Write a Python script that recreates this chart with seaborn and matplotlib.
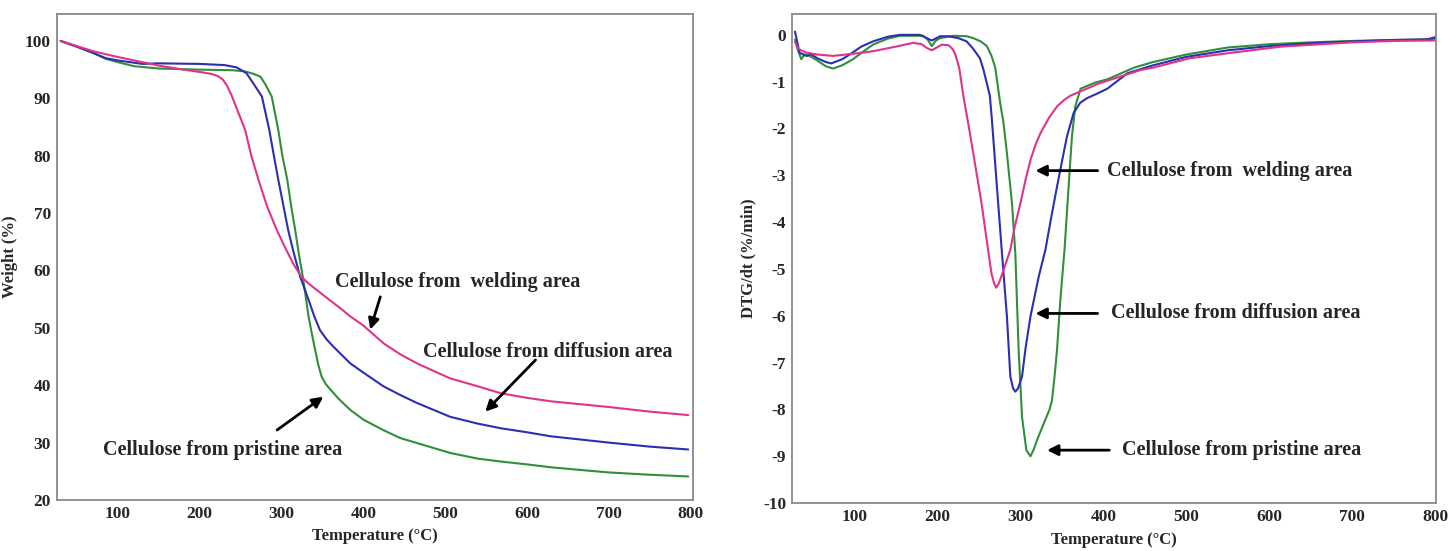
import numpy as np
import pandas as pd
import matplotlib
matplotlib.use("Agg")
import matplotlib.pyplot as plt
import seaborn as sns
from matplotlib.ticker import MultipleLocator

# ---------------- data ----------------
series_names = ["Cellulose from pristine area", "Cellulose from diffusion area", "Cellulose from welding area"]
series_colors = ["#2f8f3a", "#2b2fb0", "#e0338a"]

# TGA (left)
tga_pristine_T = [30, 50, 70, 85, 100, 120, 150, 200, 240, 255, 265, 274, 280, 288, 296, 301, 307, 312, 316.6, 321, 326,
                  333, 337, 341, 345, 349, 354, 360, 370, 384, 400, 424, 445, 466, 506, 540, 568, 600, 629, 660, 700, 750, 797]
tga_pristine_W = [100, 99.0, 97.9, 96.9, 96.3, 95.6, 95.2, 95.0, 94.9, 94.7, 94.3, 93.8, 92.5, 90.3, 84.5, 80, 75.8, 71, 67.1, 63, 58.9,
                  52, 49, 46.2, 43.5, 41.5, 40.2, 39.2, 37.6, 35.7, 34.0, 32.2, 30.8, 29.9, 28.2, 27.2, 26.7, 26.2, 25.7, 25.3, 24.8, 24.4, 24.1]

tga_diffusion_T = [30, 50, 70, 85, 100, 130, 150, 200, 230, 245, 257, 266, 276, 285, 290, 296, 302, 308, 315, 322.8, 333, 340, 347,
                   355, 363.5, 384, 400, 424.7, 445, 465.6, 506, 540, 568, 600, 629, 700, 750, 797]
tga_diffusion_W = [100, 99.0, 97.9, 97.0, 96.6, 96.0, 96.1, 96.0, 95.8, 95.4, 94.4, 92.5, 90.3, 84.5, 80.5, 75.8, 71.5, 67.1, 63, 58.9,
                   54.9, 52, 49.6, 48, 46.7, 43.8, 42.2, 39.8, 38.3, 36.9, 34.5, 33.3, 32.5, 31.8, 31.1, 30.0, 29.3, 28.8]

tga_welding_T = [30, 50, 70, 100, 130, 150, 180, 200, 213, 222, 228, 233, 239, 245, 250, 255.5, 263, 271.8, 282, 294, 305, 315, 324.8,
                 335, 343, 352, 360, 372, 384, 400, 424.7, 445, 465.6, 506, 540, 568, 600, 629, 700, 750, 797]
tga_welding_W = [100, 99.1, 98.2, 97.2, 96.3, 95.7, 95.0, 94.6, 94.3, 93.9, 93.3, 92.3, 90.5, 88.3, 86.5, 84.5, 80, 75.8, 71.3, 67.1,
                 63.8, 61, 58.8, 57.5, 56.6, 55.6, 54.7, 53.4, 52, 50.4, 47.3, 45.4, 43.8, 41.2, 39.8, 38.6, 37.8, 37.2, 36.2, 35.4, 34.8]

# DTG (right)
dtg_pristine_T = [28, 31, 35.5, 39.5, 45.6, 55, 65, 73.7, 85, 98, 110, 122, 140, 154.5, 182.7, 188, 192.8, 198, 203, 219, 235, 243,
                  252, 259.4, 265, 269.5, 275.5, 279.6, 283.6, 289.7, 293.7, 297.7, 301.8, 307, 312, 316, 320, 328, 335, 338, 341,
                  344, 348, 353, 358, 362, 366, 372.4, 390, 404.7, 437, 460, 500, 550, 600, 650, 700, 750, 800]
dtg_pristine_D = [-0.1, -0.3, -0.52, -0.42, -0.45, -0.55, -0.67, -0.72, -0.65, -0.52, -0.36, -0.21, -0.08, -0.02, -0.02, -0.1, -0.24,
                  -0.12, -0.07, -0.02, -0.03, -0.07, -0.14, -0.24, -0.45, -0.7, -1.46, -1.9, -2.53, -3.6, -4.66, -6.73, -8.16, -8.87,
                  -9.0, -8.85, -8.65, -8.3, -8.0, -7.8, -7.3, -6.73, -5.66, -4.6, -3.24, -2.17, -1.53, -1.15, -1.02, -0.95, -0.7,
                  -0.58, -0.42, -0.27, -0.2, -0.16, -0.13, -0.11, -0.09]

dtg_diffusion_T = [28, 30, 33.4, 41.5, 47.5, 55, 65, 71.8, 85, 94, 108, 122, 140, 154.5, 178.7, 186.8, 193, 203, 213, 225, 235, 243,
                   251, 255.4, 263, 265.5, 271.5, 277.6, 283.6, 287.7, 291, 293.7, 297, 301.8, 306, 311.9, 322, 330, 337, 344, 350,
                   356, 364, 372, 380.5, 393, 404.7, 429, 460, 500, 550, 600, 650, 700, 750, 790, 800]
dtg_diffusion_D = [0.07, -0.1, -0.38, -0.45, -0.42, -0.5, -0.58, -0.61, -0.52, -0.42, -0.25, -0.14, -0.04, 0, 0, -0.07, -0.12, -0.03,
                   -0.03, -0.07, -0.14, -0.3, -0.5, -0.75, -1.3, -1.82, -3.24, -4.66, -6.02, -7.3, -7.55, -7.62, -7.55, -7.3, -6.7,
                   -6.02, -5.16, -4.59, -3.9, -3.24, -2.7, -2.17, -1.67, -1.45, -1.35, -1.25, -1.15, -0.82, -0.65, -0.47, -0.33,
                   -0.24, -0.18, -0.14, -0.11, -0.1, -0.05]

dtg_welding_T = [28, 32, 41.5, 55, 73.7, 100, 122, 150, 170.6, 180.7, 187, 193, 199, 205, 213, 218, 221, 226, 231, 237, 243, 253,
                 261.4, 265, 268, 270.7, 274, 279.6, 287.7, 293, 299.8, 306, 312, 318, 324, 334, 344, 352, 360, 372, 393, 404.7, 445,
                 460, 504, 560, 615, 700, 750, 800]
dtg_welding_D = [-0.15, -0.3, -0.38, -0.42, -0.45, -0.4, -0.35, -0.25, -0.17, -0.2, -0.28, -0.33, -0.27, -0.21, -0.22, -0.3, -0.4,
                 -0.7, -1.3, -1.9, -2.53, -3.6, -4.66, -5.1, -5.3, -5.4, -5.3, -5.02, -4.59, -4.1, -3.6, -3.1, -2.67, -2.35, -2.1,
                 -1.78, -1.53, -1.4, -1.3, -1.21, -1.05, -0.98, -0.75, -0.7, -0.5, -0.37, -0.25, -0.16, -0.13, -0.12]

x_ticks = [100, 200, 300, 400, 500, 600, 700, 800]
tga_yticks = [20, 30, 40, 50, 60, 70, 80, 90, 100]
dtg_yticks = [-10, -9, -8, -7, -6, -5, -4, -3, -2, -1, 0]

# ---------------- style ----------------
sns.set_style("white")
plt.rcParams["font.family"] = ["Liberation Serif", "DejaVu Serif"]
plt.rcParams["font.weight"] = "bold"
plt.rcParams["axes.labelweight"] = "bold"

def frame(Ts, Vs):
    parts = []
    for name, T, V in zip(series_names, Ts, Vs):
        parts.append(pd.DataFrame({"T": T, "V": V, "series": name}))
    return pd.concat(parts, ignore_index=True)

tga = frame([tga_pristine_T, tga_diffusion_T, tga_welding_T], [tga_pristine_W, tga_diffusion_W, tga_welding_W])
dtg = frame([dtg_pristine_T, dtg_diffusion_T, dtg_welding_T], [dtg_pristine_D, dtg_diffusion_D, dtg_welding_D])
palette = dict(zip(series_names, series_colors))

fig = plt.figure(figsize=(14.5, 5.51), dpi=100)
ax1 = fig.add_axes([0.039, 0.0926, 0.439, 0.882])
ax2 = fig.add_axes([0.546, 0.087, 0.444, 0.888])

sns.lineplot(data=tga, x="T", y="V", hue="series", palette=palette, sort=False, estimator=None,
             linewidth=1.5, legend=False, ax=ax1)
sns.lineplot(data=dtg, x="T", y="V", hue="series", palette=palette, sort=False, estimator=None,
             linewidth=1.5, legend=False, ax=ax2)

for ax in (ax1, ax2):
    for s in ax.spines.values():
        s.set_color("#8a8a8a")
        s.set_linewidth(1.3)
    ax.set_xticks(x_ticks)
    ax.xaxis.set_minor_locator(MultipleLocator(50))
    ax.tick_params(axis="both", which="major", direction="in", length=3, width=1, color="#777777",
                   labelsize=12.5, pad=4)
    ax.tick_params(axis="both", which="minor", direction="in", length=2, width=0.8, color="#777777")
    ax.set_xlabel("Temperature (°C)", fontsize=12, fontweight="bold", labelpad=5)

ax1.set_xlim(25, 803)
ax1.set_ylim(20, 104.7)
ax1.set_yticks(tga_yticks)
ax1.yaxis.set_minor_locator(MultipleLocator(5))
ax1.set_ylabel("Weight (%)", fontsize=12, fontweight="bold", labelpad=5)

ax2.set_xlim(24, 800.5)
ax2.set_ylim(-10, 0.45)
ax2.set_yticks(dtg_yticks)
ax2.set_yticklabels([str(v) for v in dtg_yticks])
ax2.yaxis.set_minor_locator(MultipleLocator(0.5))
ax2.set_ylabel("DTG/dt (%/min)", fontsize=12, fontweight="bold", labelpad=5)
for lab in ax1.get_xticklabels() + ax1.get_yticklabels() + ax2.get_xticklabels() + ax2.get_yticklabels():
    lab.set_fontweight("bold")

arrow = dict(arrowstyle="-|>", color="black", lw=2, mutation_scale=16, shrinkA=0, shrinkB=0)
tfs = 14.5

# left annotations
ax1.text(365.6, 58.0, "Cellulose from  welding area", fontsize=tfs, fontweight="bold", ha="left", va="center")
ax1.annotate("", xy=(408.4, 49.7), xytext=(420.7, 55.4), arrowprops=arrow)
ax1.text(473.3, 45.8, "Cellulose from diffusion area", fontsize=tfs, fontweight="bold", ha="left", va="center")
ax1.annotate("", xy=(549, 35.4), xytext=(610.4, 44.4), arrowprops=arrow)
ax1.text(374, 28.7, "Cellulose from pristine area", fontsize=tfs, fontweight="bold", ha="right", va="center")
ax1.annotate("", xy=(351, 38.0), xytext=(294.6, 32.2), arrowprops=arrow)

# right annotations
ax2.annotate("", xy=(318, -2.9), xytext=(393, -2.9), arrowprops=arrow)
ax2.text(404, -2.9, "Cellulose from  welding area", fontsize=tfs, fontweight="bold", ha="left", va="center")
ax2.annotate("", xy=(318, -5.95), xytext=(393, -5.95), arrowprops=arrow)
ax2.text(408.7, -5.95, "Cellulose from diffusion area", fontsize=tfs, fontweight="bold", ha="left", va="center")
ax2.annotate("", xy=(332, -8.87), xytext=(407, -8.87), arrowprops=arrow)
ax2.text(422, -8.87, "Cellulose from pristine area", fontsize=tfs, fontweight="bold", ha="left", va="center")

fig.savefig("out.png", dpi=100)
